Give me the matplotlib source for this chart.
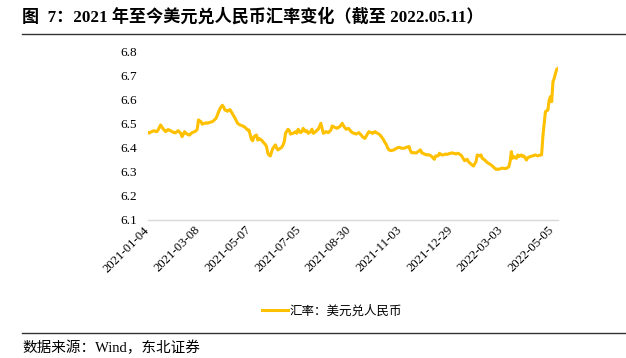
import matplotlib
matplotlib.use("Agg")
import matplotlib.pyplot as plt
from matplotlib.lines import Line2D

# USD/CNY, one value per trading day, 2021-01-04 .. 2022-05-11
usd_cny = [
    6.464, 6.462, 6.466, 6.468, 6.471, 6.472, 6.469, 6.468, 6.475, 6.486,
    6.496, 6.488, 6.480, 6.474, 6.468, 6.473, 6.477, 6.474, 6.472, 6.468,
    6.466, 6.463, 6.464, 6.469, 6.472, 6.466, 6.461, 6.447, 6.458, 6.468,
    6.462, 6.458, 6.455, 6.454, 6.460, 6.464, 6.466, 6.468, 6.472, 6.477,
    6.517, 6.513, 6.510, 6.499, 6.502, 6.503, 6.505, 6.503, 6.505, 6.507,
    6.508, 6.510, 6.514, 6.519, 6.524, 6.538, 6.551, 6.563, 6.572, 6.578,
    6.570, 6.558, 6.556, 6.553, 6.557, 6.560, 6.551, 6.542, 6.533, 6.524,
    6.513, 6.503, 6.499, 6.496, 6.494, 6.492, 6.489, 6.486, 6.480, 6.475,
    6.475, 6.455, 6.436, 6.430, 6.447, 6.451, 6.454, 6.433, 6.440, 6.436,
    6.433, 6.426, 6.420, 6.415, 6.405, 6.378, 6.370, 6.367, 6.385, 6.399,
    6.406, 6.413, 6.399, 6.392, 6.396, 6.399, 6.403, 6.412, 6.426, 6.461,
    6.470, 6.478, 6.472, 6.458, 6.460, 6.461, 6.465, 6.468, 6.461, 6.478,
    6.470, 6.464, 6.468, 6.482, 6.474, 6.468, 6.472, 6.461, 6.465, 6.468,
    6.478, 6.461, 6.465, 6.468, 6.475, 6.478, 6.490, 6.503, 6.482, 6.461,
    6.465, 6.468, 6.466, 6.464, 6.470, 6.475, 6.492, 6.489, 6.486, 6.484,
    6.482, 6.486, 6.489, 6.496, 6.503, 6.492, 6.485, 6.478, 6.480, 6.482,
    6.475, 6.468, 6.464, 6.462, 6.460, 6.458, 6.461, 6.464, 6.459, 6.454,
    6.447, 6.443, 6.440, 6.450, 6.459, 6.468, 6.466, 6.464, 6.461, 6.465,
    6.468, 6.464, 6.461, 6.458, 6.454, 6.447, 6.440, 6.431, 6.422, 6.413,
    6.400, 6.392, 6.390, 6.389, 6.391, 6.392, 6.396, 6.399, 6.401, 6.403,
    6.401, 6.399, 6.399, 6.399, 6.401, 6.403, 6.405, 6.406, 6.389, 6.380,
    6.380, 6.381, 6.379, 6.380, 6.385, 6.389, 6.392, 6.380, 6.378, 6.375,
    6.373, 6.371, 6.372, 6.371, 6.368, 6.364, 6.358, 6.353, 6.367, 6.367,
    6.367, 6.378, 6.374, 6.371, 6.371, 6.373, 6.375, 6.373, 6.375, 6.377,
    6.378, 6.380, 6.378, 6.377, 6.375, 6.377, 6.378, 6.374, 6.371, 6.364,
    6.355, 6.347, 6.350, 6.353, 6.343, 6.338, 6.333, 6.329, 6.325, 6.334,
    6.343, 6.371, 6.369, 6.367, 6.371, 6.357, 6.353, 6.350, 6.344, 6.339,
    6.336, 6.333, 6.329, 6.325, 6.320, 6.315, 6.311, 6.312, 6.311, 6.313,
    6.315, 6.316, 6.315, 6.314, 6.315, 6.318, 6.322, 6.343, 6.385, 6.357,
    6.364, 6.360, 6.357, 6.371, 6.364, 6.368, 6.371, 6.364, 6.367, 6.358,
    6.350, 6.360, 6.362, 6.364, 6.366, 6.367, 6.369, 6.371, 6.369, 6.367,
    6.369, 6.371, 6.371, 6.447, 6.500, 6.551, 6.555, 6.558, 6.600, 6.614,
    6.593, 6.676, 6.690, 6.711, 6.728, 6.732,
]

# every 40th trading day gets a label
tick_labels = ['2021-01-04', '2021-03-08', '2021-05-07', '2021-07-05', '2021-08-30',
               '2021-11-03', '2021-12-29', '2022-03-03', '2022-05-05']
tick_step = 40
y_ticks = [6.1, 6.2, 6.3, 6.4, 6.5, 6.6, 6.7, 6.8]

serif_cjk = ['Liberation Serif', 'Noto Sans CJK SC']

W, H = 626, 358
fig = plt.figure(figsize=(W / 100, H / 100), dpi=100)
ax = fig.add_axes([148 / W, 1 - 220 / H, 410 / W, 168 / H])

ax.plot(range(len(usd_cny)), usd_cny, color='#FFC000', lw=2.2, label='汇率：美元兑人民币')

ax.set_xlim(0, len(usd_cny) - 1)
ax.set_ylim(6.1, 6.8)
ax.set_yticks(y_ticks)
ax.set_yticklabels([f'{v:.1f}' for v in y_ticks], fontfamily='Liberation Serif', fontsize=9.5)
ax.set_xticks([i * tick_step for i in range(len(tick_labels))])
ax.set_xticklabels(tick_labels, rotation=45, ha='right', va='center', rotation_mode='anchor',
                   fontfamily='Liberation Serif', fontsize=9.2)
ax.tick_params(axis='y', length=0, pad=8)
ax.tick_params(axis='x', length=0, pad=6)
for side in ['top', 'right', 'left']:
    ax.spines[side].set_visible(False)
ax.spines['bottom'].set_color('#d9d9d9')
ax.spines['bottom'].set_linewidth(1.0)

ax.legend(loc='center', bbox_to_anchor=(332 / W, 1 - 311 / H), bbox_transform=fig.transFigure,
          frameon=False, handlelength=2.1, handletextpad=0.1,
          prop={'family': ['Noto Sans CJK SC'], 'size': 9})

# title, rules and source note
fig.text(22 / W, 1 - 17 / H, '图  7：2021 年至今美元兑人民币汇率变化（截至 2022.05.11）',
         family=serif_cjk, fontsize=12.3, fontweight='bold', va='center', ha='left')
fig.add_artist(Line2D([22 / W, 1], [1 - 34 / H] * 2, color='#333333', lw=1.0))
fig.add_artist(Line2D([22 / W, 1], [1 - 333 / H] * 2, color='#333333', lw=1.0))
fig.text(22 / W, 1 - 348 / H, '数据来源：Wind，东北证券', family=serif_cjk, fontsize=10.5,
         va='center', ha='left')

fig.savefig('out.png', dpi=100)
